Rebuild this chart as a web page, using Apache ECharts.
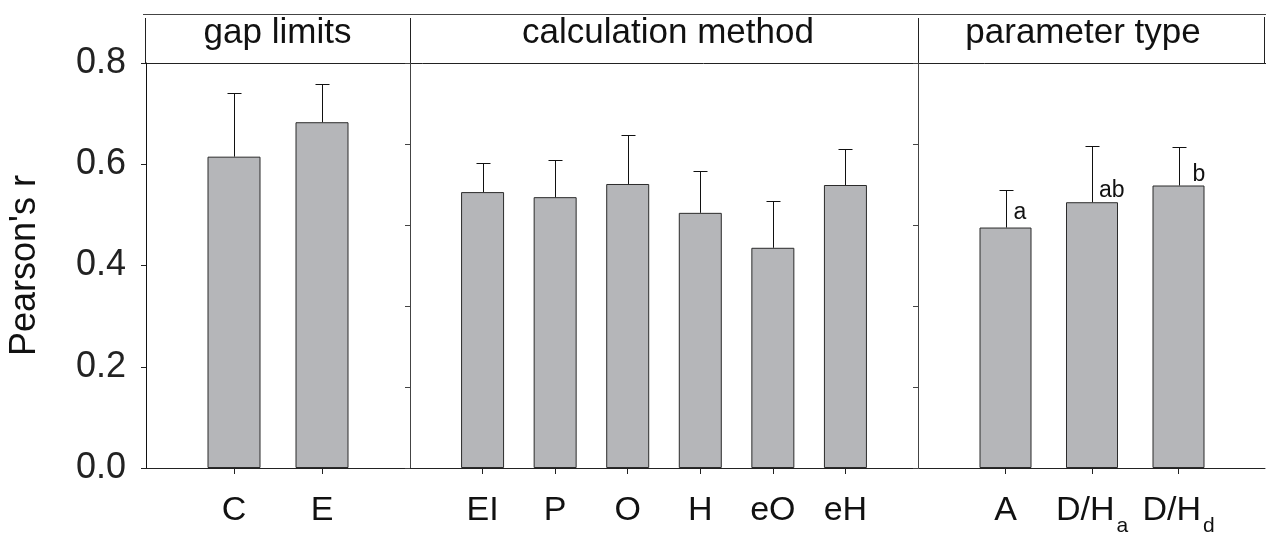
<!DOCTYPE html>
<html>
<head>
<meta charset="utf-8">
<script src="https://cdn.jsdelivr.net/npm/echarts@6/dist/echarts.min.js"></script>
<style>
  html, body { margin: 0; padding: 0; background: #fff; }
  #main { width: 1266px; height: 534px; }
</style>
</head>
<body>
<div id="main"></div>
<script>
// DATA ---------------------------------------------------------------------
var gapCategories = ['C', 'E'];
var gapMeans = [0.615, 0.683];
var gapUpper = [0.741, 0.759];

var methodCategories = ['EI', 'P', 'O', 'H', 'eO', 'eH'];
var methodMeans = [0.545, 0.535, 0.561, 0.504, 0.435, 0.559];
var methodUpper = [0.602, 0.608, 0.658, 0.587, 0.527, 0.630];

var paramCategories = ['A', 'D/H_a', 'D/H_d'];   // "_x" = subscript
var paramMeans = [0.475, 0.525, 0.558];
var paramUpper = [0.549, 0.636, 0.634];
var paramLetters = ['a', 'ab', 'b'];

var panelTitles = ['gap limits', 'calculation method', 'parameter type'];
var yTickValues = [0.0, 0.2, 0.4, 0.6, 0.8];
var yTitle = "Pearson's r";

// LAYOUT -------------------------------------------------------------------
var FONT = '"Liberation Sans", Arial, sans-serif';
var TOP = 63, BOTTOM_Y = 468;
var panels = [
    { left: 146, width: 264, cats: gapCategories, means: gapMeans, upper: gapUpper, barWidth: 53, titleX: 277.5 },
    { left: 410, width: 508, cats: methodCategories, means: methodMeans, upper: methodUpper, barWidth: 43, titleX: 668 },
    { left: 919, width: 346, cats: paramCategories, means: paramMeans, upper: paramUpper, barWidth: 52, titleX: 1083 }
];
// offsets of the significance letters from the bar's top-left corner
var letterOffsets = [[34, -26], [33, -23], [40, -22]];

var chart = echarts.init(document.getElementById('main'), null, { renderer: 'canvas' });

function pad(arr, blank) {
    return [blank].concat(arr, [blank]);
}

function catLabel(v) {
    if (!v || v === ' ') return '';
    var k = v.indexOf('_');
    if (k < 0) return '{b|' + v + '}';
    return '{b|' + v.slice(0, k) + '}{s|' + v.slice(k + 1) + '}';
}

function renderError(params, api) {
    var x = api.value(0);
    var p0 = api.coord([x, api.value(1)]);
    var p1 = api.coord([x, api.value(2)]);
    var cx = Math.round(p0[0]) + 0.5;
    var ty = Math.round(p1[1]) + 0.5;
    var st = { stroke: '#111', lineWidth: 1 };
    return {
        type: 'group',
        children: [
            { type: 'line', shape: { x1: cx, y1: p0[1], x2: cx, y2: ty }, style: st },
            { type: 'line', shape: { x1: cx - 7, y1: ty, x2: cx + 7, y2: ty }, style: st }
        ]
    };
}

var grids = [], xAxes = [], yAxes = [], series = [];

panels.forEach(function (p, gi) {
    grids.push({
        left: p.left, width: p.width, top: TOP, height: BOTTOM_Y - TOP,
        containLabel: false,
        outerBoundsMode: 'none'
    });

    xAxes.push({
        type: 'category',
        gridIndex: gi,
        data: pad(p.cats, ''),
        boundaryGap: false,
        axisLine: { show: true, lineStyle: { color: '#222', width: 1 } },
        axisTick: {
            show: true,
            length: 6,
            interval: function (i, v) { return v !== ''; },
            lineStyle: { color: '#222' }
        },
        axisLabel: {
            interval: 0,
            margin: 26,
            formatter: catLabel,
            rich: {
                b: { fontSize: 34, fontFamily: FONT, color: '#111', lineHeight: 34, verticalAlign: 'top' },
                s: { fontSize: 21, fontFamily: FONT, color: '#111', lineHeight: 65, verticalAlign: 'middle', padding: [0, 0, 0, 2] }
            }
        },
        splitLine: { show: false }
    });

    // data axis of the panel
    if (gi === 0) {
        yAxes.push({
            type: 'value',
            gridIndex: 0,
            position: 'left',
            min: 0, max: 0.8, interval: 0.2,
            name: yTitle,
            nameLocation: 'middle',
            nameGap: 103,
            nameTextStyle: { fontSize: 36, fontFamily: FONT, color: '#111' },
            axisLine: { show: true, lineStyle: { color: '#111', width: 1 } },
            axisTick: { show: true, inside: false, length: 5, lineStyle: { color: '#222' } },
            axisLabel: {
                margin: 20,
                fontSize: 36,
                fontFamily: FONT,
                color: '#222',
                formatter: function (v) {
                    return yTickValues.indexOf(+v.toFixed(1)) >= 0 ? v.toFixed(1) : '';
                }
            },
            splitLine: { show: false }
        });
    } else {
        yAxes.push({ type: 'value', gridIndex: gi, min: 0, max: 0.8, show: false });
    }
    var dataAxis = yAxes.length - 1;

    // divider between panels, with its own inward ticks
    if (gi < 2) {
        yAxes.push({
            type: 'value',
            gridIndex: gi,
            position: 'right',
            min: 0, max: 0.8, interval: 0.16,
            axisLine: { show: true, lineStyle: { color: '#444', width: 1 } },
            axisTick: { show: true, inside: true, length: 5, lineStyle: { color: '#444' } },
            axisLabel: { show: false },
            splitLine: { show: false }
        });
    }

    var barData = pad(p.means, '-');
    if (gi === 2) {
        barData = barData.map(function (v, i) {
            if (v === '-') return v;
            var off = letterOffsets[i - 1];
            return {
                value: v,
                label: {
                    show: true,
                    formatter: paramLetters[i - 1],
                    position: off,
                    fontSize: 23,
                    lineHeight: 23,
                    fontFamily: FONT,
                    color: '#111'
                }
            };
        });
    }

    series.push({
        type: 'bar',
        xAxisIndex: gi,
        yAxisIndex: dataAxis,
        barWidth: p.barWidth,
        data: barData,
        itemStyle: { color: '#b5b6b9', borderColor: '#2b2b2b', borderWidth: 1 },
        silent: true,
        z: 2
    });

    series.push({
        type: 'custom',
        xAxisIndex: gi,
        yAxisIndex: dataAxis,
        renderItem: renderError,
        encode: { x: 0, y: [1, 2] },
        data: p.means.map(function (m, i) { return [i + 1, m, p.upper[i]]; }),
        silent: true,
        z: 3
    });
});

// header strip with the panel titles
var lineStyle = { stroke: '#222', lineWidth: 1 };
var graphics = [
    { type: 'line', shape: { x1: 143, y1: 14.5, x2: 1266, y2: 14.5 }, style: { stroke: '#444', lineWidth: 1.2 } },
    { type: 'line', shape: { x1: 141, y1: TOP + 0.5, x2: 1266, y2: TOP + 0.5 }, style: lineStyle },
    { type: 'line', shape: { x1: 145.5, y1: 18, x2: 145.5, y2: TOP }, style: lineStyle },
    { type: 'line', shape: { x1: 410.5, y1: 18, x2: 410.5, y2: TOP }, style: lineStyle },
    { type: 'line', shape: { x1: 918.5, y1: 18, x2: 918.5, y2: TOP }, style: lineStyle },
    { type: 'line', shape: { x1: 1264.5, y1: 17, x2: 1264.5, y2: TOP }, style: lineStyle }
];
panels.forEach(function (p, gi) {
    graphics.push({
        type: 'text',
        x: p.titleX,
        y: 33,
        style: {
            text: panelTitles[gi],
            font: '35px ' + FONT,
            fill: '#111',
            align: 'center',
            verticalAlign: 'middle',
            textAlign: 'center',
            textVerticalAlign: 'middle'
        }
    });
});

var option = {
    animation: false,
    backgroundColor: '#fff',
    textStyle: { fontFamily: FONT },
    grid: grids,
    xAxis: xAxes,
    yAxis: yAxes,
    series: series,
    graphic: { elements: graphics }
};

chart.setOption(option);
</script>
</body>
</html>
